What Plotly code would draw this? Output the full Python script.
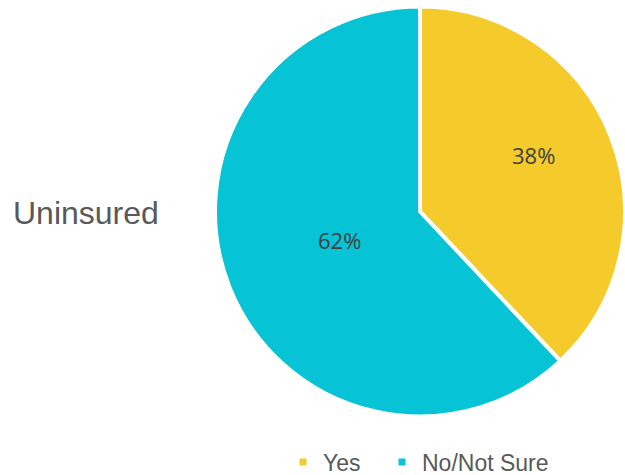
import math
import plotly.graph_objects as go

# Survey responses for the uninsured group
labels = ["Yes", "No/Not Sure"]
values = [38, 62]
colors = ["#F5CB2C", "#06C3D5"]
row_title = "Uninsured"

W, H = 625, 475
cx, cy, r = 420.0, 211.5, 205.0  # pie centre and radius in pixels

# where each percentage label sits: (angle shift from slice middle in degrees,
# distance from centre in pixels)
label_place = [(-5.0, 127.0), (2.0, 85.0)]
# left edge of each legend entry, in pixels
legend_left = [283, 382]

fig = go.Figure(
    go.Pie(
        labels=labels,
        values=values,
        sort=False,
        direction="clockwise",
        rotation=0,
        marker=dict(colors=colors, line=dict(color="white", width=4)),
        textinfo="none",
        showlegend=False,
        domain=dict(
            x=[(cx - r) / W, min(1.0, (cx + r) / W)],
            y=[1 - (cy + r) / H, 1 - (cy - r) / H],
        ),
        hoverinfo="label+percent",
    )
)

# legend entries, one per slice, each in its own legend box
for i, (lab, col) in enumerate(zip(labels, colors)):
    name = "legend" if i == 0 else f"legend{i + 1}"
    fig.add_trace(
        go.Scatter(
            x=[None], y=[None],
            mode="markers",
            name=lab,
            marker=dict(symbol="square", size=7, color=col),
            legend=name,
            showlegend=True,
            hoverinfo="skip",
        )
    )
    fig.update_layout({
        name: dict(
            orientation="h",
            xref="container", yref="container",
            x=legend_left[i] / W, xanchor="left",
            y=1 - 462 / H, yanchor="middle",
            font=dict(family="Liberation Sans, Arial", size=23, color="#595959"),
            bgcolor="rgba(0,0,0,0)",
        )
    })

# percentage labels placed along each slice's middle angle
total = sum(values)
start = 0.0
for v, (shift, dist) in zip(values, label_place):
    frac = v / total
    mid = math.radians((start + frac / 2) * 360 + shift)
    start += frac
    px = cx + dist * math.sin(mid)
    py = cy - dist * math.cos(mid)
    fig.add_annotation(
        text=f"{round(frac * 100)}%",
        x=px / W, y=1 - py / H,
        xref="paper", yref="paper",
        xanchor="center", yanchor="middle",
        showarrow=False,
        font=dict(family="Open Sans", size=22, color="#404040"),
    )

fig.add_annotation(
    text=row_title,
    x=11 / W, y=1 - 213 / H,
    xref="paper", yref="paper",
    xanchor="left", yanchor="middle",
    showarrow=False,
    font=dict(family="Liberation Sans, Arial", size=32, color="#595959"),
)

fig.update_layout(
    width=W,
    height=H,
    margin=dict(l=0, r=0, t=0, b=0, autoexpand=False),
    paper_bgcolor="white",
    plot_bgcolor="white",
    showlegend=True,
    xaxis=dict(visible=False),
    yaxis=dict(visible=False),
)

fig.write_html("out.html")
